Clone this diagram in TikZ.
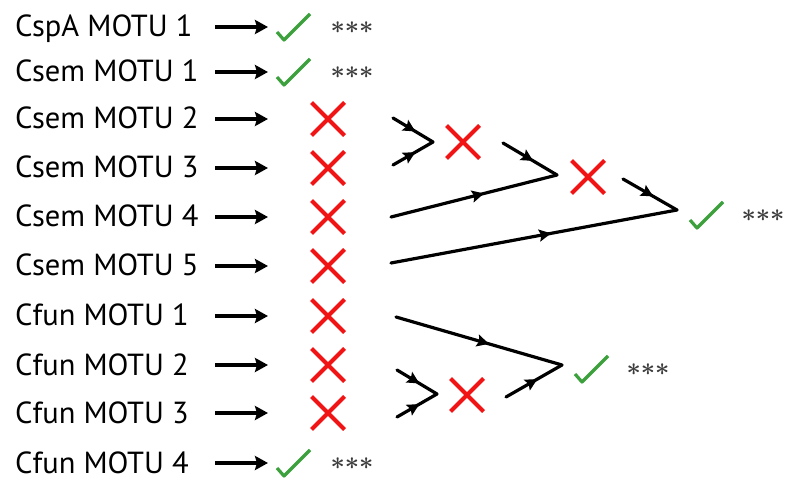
\documentclass[tikz,border=0pt]{standalone}
\usepackage{fontspec}
\setmainfont{PT Sans}
\usetikzlibrary{arrows.meta,decorations.markings}

\definecolor{xred}{RGB}{240,20,20}
\definecolor{xgreen}{RGB}{60,160,60}
\definecolor{xgray}{RGB}{60,60,60}

\newcommand{\signif}{${\ast}{\ast}{\ast}$}

\tikzset{
  lab/.style={anchor=base west, inner sep=0pt, font=\fontsize{30.5}{30}\selectfont},
  arr/.style={-{Stealth[length=13pt,width=14pt,inset=2pt]}, line width=3.4pt},
  crossmark/.style={minimum size=40pt, inner sep=0pt,
    path picture={\draw[xred,line width=4.2pt]
      (path picture bounding box.center) ++(-16.5pt,16.5pt) -- ++(33pt,-33pt)
      (path picture bounding box.center) ++(-16.5pt,-16.5pt) -- ++(33pt,33pt);}},
  okmark/.style={minimum size=40pt, inner sep=0pt,
    path picture={\draw[xgreen,line width=3.2pt,line join=round]
      (path picture bounding box.center) ++(-16pt,-5pt) -- ++(7pt,-8pt) -- ++(26pt,26pt);}},
  stars/.style={text=xgray, inner sep=0pt, font=\fontsize{25}{25}\selectfont\boldmath},
  merge/.style={line width=3.2pt, line cap=round,
    decoration={markings, mark=at position 0.56 with {\arrow{Stealth[length=12pt,width=12pt,inset=2pt]}}},
    postaction={decorate}}
}

\begin{document}
\begin{tikzpicture}[x=1pt,y=-1pt]
\useasboundingbox (0,0) rectangle (785,481);

% species and their arrows
\foreach \i/\y/\t in {1/27/CspA MOTU 1, 2/72/Csem MOTU 1, 3/119/Csem MOTU 2,
    4/168/Csem MOTU 3, 5/217/Csem MOTU 4, 6/266/Csem MOTU 5, 7/316/Cfun MOTU 1,
    8/365/Cfun MOTU 2, 9/413/Cfun MOTU 3, 10/463/Cfun MOTU 4} {
  \node[lab] (l\i) at (15,\y+10) {\t};
  \coordinate (s\i) at (215,\y);
  \coordinate (e\i) at (268,\y);
  \draw[arr] (s\i) -- (e\i);
}

% single results
\foreach \i in {1,2,10} {
  \node[okmark] (m\i) at (293,0 |- e\i) {};
  \node[stars] (st\i) at ([yshift=-1pt]352,0 |- e\i) {\signif};
}
\foreach \i in {3,...,9}
  \node[crossmark] (m\i) at (328,0 |- e\i) {};

% Csem 2+3, then +4, then +5
\coordinate (p1) at (393,118);
\coordinate (p2) at (393,165);
\coordinate (v1) at (433,142);
\draw[merge] (p1) -- (v1);
\draw[merge] (p2) -- (v1);
\node[crossmark] (mA) at (463,142) {};
\coordinate (p3) at (503,143);
\coordinate (p4) at (391,217);
\coordinate (v2) at (557,175);
\draw[merge] (p3) -- (v2);
\draw[merge] (p4) -- (v2);
\node[crossmark] (mB) at (588,177) {};
\coordinate (p5) at (623,179);
\coordinate (p6) at (391,263);
\coordinate (v3) at (677,210);
\draw[merge] (p5) -- (v3);
\draw[merge] (p6) -- (v3);
\node[okmark] (mC) at (706,215) {};
\node[stars] (stC) at (763,216) {\signif};

% Cfun 2+3, then +1
\coordinate (q1) at (397,370);
\coordinate (q2) at (397,417);
\coordinate (v4) at (437,394);
\draw[merge] (q1) -- (v4);
\draw[merge] (q2) -- (v4);
\node[crossmark] (mD) at (467,395) {};
\coordinate (q3) at (506,397);
\coordinate (q4) at (396,317);
\coordinate (v5) at (562,365);
\draw[merge] (q3) -- (v5);
\draw[merge] (q4) -- (v5);
\node[okmark] (mE) at (591,369) {};
\node[stars] (stE) at (648,370) {\signif};
\end{tikzpicture}
\end{document}
